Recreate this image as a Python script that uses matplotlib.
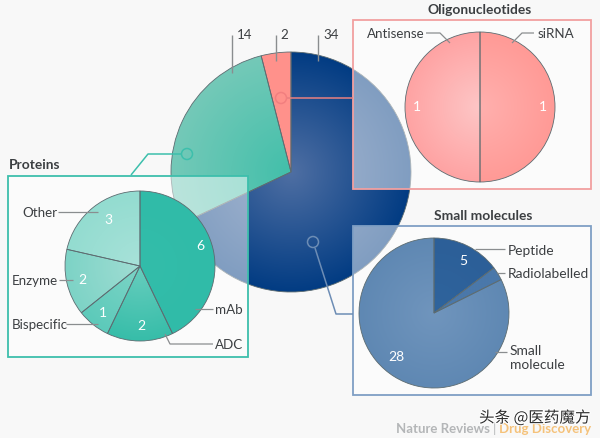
import numpy as np
import matplotlib
matplotlib.use("Agg")
import matplotlib.pyplot as plt
from matplotlib.colors import LinearSegmentedColormap
from matplotlib.patches import Circle, Rectangle
import matplotlib.patheffects as pe

plt.rcParams['font.family'] = ['Lato', 'DejaVu Sans']

H = 439

# data
main_values = [34, 14, 2]
protein_values = [6, 2, 1, 2, 3]
protein_labels = ["mAb", "ADC", "Bispecific", "Enzyme", "Other"]
oligo_values = [1, 1]
oligo_labels = ["siRNA", "Antisense"]
small_values = [5, 1, 28]
small_labels = ["Peptide", "Radiolabelled", "Small\nmolecule"]

TEXT = "#3c3f42"
LEADER = "#8a8d8f"
GREEN = "#3dbfac"
PINK = "#f2a0a0"
BLUE = "#7f9fc4"

fig = plt.figure(figsize=(6, 4.39), dpi=100, facecolor="#f8f8f8")
ax = fig.add_axes([0, 0, 1, 1])


def pie(values, cx, cy, r, colors, z):
    wedges, _ = ax.pie(values, startangle=90, counterclock=False, center=(cx, H - cy), radius=r,
                       colors=["none"] * len(values),
                       wedgeprops={"edgecolor": "#5c6b70", "linewidth": 0.6, "zorder": z + 1})
    xs, ys = np.meshgrid(np.linspace(-1, 1, 200), np.linspace(-1, 1, 200))
    dist = np.clip(np.hypot(xs, ys), 0, 1)
    for w, (inner, outer) in zip(wedges, colors):
        cmap = LinearSegmentedColormap.from_list("g", [inner, outer])
        im = ax.imshow(dist, cmap=cmap, vmin=0, vmax=1, origin="lower", zorder=z, interpolation="bilinear",
                       extent=(cx - r, cx + r, H - cy - r, H - cy + r))
        im.set_clip_path(w)


def box(x0, y0, x1, y1, color):
    ax.add_patch(Rectangle((x0, H - y1), x1 - x0, y1 - y0, facecolor="white", alpha=0.5,
                           edgecolor="none", zorder=3))
    ax.add_patch(Rectangle((x0, H - y1), x1 - x0, y1 - y0, facecolor="none",
                           edgecolor=color, linewidth=1.3, zorder=3.2))


def line(px, py, color=LEADER, lw=0.9, z=6):
    ax.plot(px, [H - y for y in py], color=color, lw=lw, zorder=z, solid_capstyle="butt")


def label(x, y, s, ha="left", color=TEXT, size=9.6, weight="normal", **kw):
    ax.text(x, H - y, s, ha=ha, va="center", color=color, fontsize=size, fontweight=weight, zorder=8, **kw)


# main pie
pie(main_values, 291, 173, 120,
    [("#4f6fa3", "#023c83"), ("#42bfaa", "#74c9b8"), ("#ff918b", "#ff928c")], 1)

# panels over the main pie
box(8, 177, 248, 358, GREEN)
box(353, 21, 591, 190, PINK)
box(353, 227, 591, 396, BLUE)

pie(protein_values, 140, 267, 75,
    [("#33bdaa", "#30bba8"), ("#68ceBe", "#37bda9"), ("#7dd4c6", "#5ccaba"),
     ("#a0ddd3", "#7dd3c6"), ("#a8e2d9", "#93dcd0")], 4)
pie(oligo_values, 480, 108, 75, [("#ffb0ae", "#ff9a96"), ("#fdc6c6", "#ffa3a3")], 4)
pie(small_values, 434, 314, 75,
    [("#2f649d", "#2c5f98"), ("#4a78aa", "#4a78aa"), ("#7095bd", "#5f88b3")], 4)

# value labels
for x, y, s in [(200, 246, "6"), (141, 326, "2"), (103, 313, "1"), (82, 280, "2"), (108, 220, "3"),
                (417, 107, "1"), (543, 107, "1"), (463, 261, "5"), (396, 357, "28")]:
    label(x, y, s, ha="center", color="white", size=10)

# main pie counts
for x, s in [(237, "14"), (280, "2"), (323, "34")]:
    label(x, 35, s)
line([232, 232], [36, 74], lw=1)
line([276, 276], [36, 62], lw=1)
line([318, 318], [36, 62], lw=1)

# connectors
ax.add_patch(Circle((187, H - 155), 5.5, facecolor="none", edgecolor=GREEN, lw=1.1, zorder=6))
line([181, 148, 131], [155, 155, 176], color=GREEN, lw=1.1)
ax.add_patch(Circle((281, H - 99), 5.5, facecolor="none", edgecolor="#f27f7f", lw=1.1, zorder=6))
line([287, 353], [99, 99], color="#e98080", lw=1.1)
ax.add_patch(Circle((313, H - 243), 5.5, facecolor="none", edgecolor="#6d8db5", lw=1.1, zorder=6))
line([315, 336, 353], [249, 315, 315], color="#6d8db5", lw=1.1)

# titles
label(9, 165, "Proteins", weight="bold", size=9.9)
label(480, 10, "Oligonucleotides", ha="center", weight="bold", size=9.9)
label(483, 216, "Small molecules", ha="center", weight="bold", size=9.9)

# protein labels
label(215, 310, protein_labels[0])
label(215, 345, protein_labels[1])
label(12, 325, protein_labels[2])
label(12, 281, protein_labels[3])
label(22, 213, protein_labels[4])
line([195, 213], [310, 310])
line([165, 170, 213], [335, 345, 345])
line([66, 98], [325, 325])
line([59, 73], [281, 281])
line([58, 98], [213, 213])

# oligo labels
label(538, 34, oligo_labels[0])
label(367, 34, oligo_labels[1])
line([534, 522, 512], [34, 34, 44])
line([426, 440, 450], [34, 34, 44])

# small molecule labels
label(508, 251, small_labels[0], size=9.9)
label(508, 274, small_labels[1], size=9.9)
label(510, 358, small_labels[2], linespacing=1.15, size=9.9)
line([475, 505], [250, 250])
line([497, 505], [274, 274])
line([495, 507], [353, 353])

# credit and watermark
label(396, 429, "Nature Reviews", color="#b4b6b8", weight="bold", size=9.5)
label(493, 429, "|", color="#b4b6b8", size=9.5)
label(499, 429, "Drug Discovery", color="#f5c27a", weight="bold", size=9.5)
ax.text(479, H - 419, "头条 @医药魔方", family=['Noto Sans CJK SC', 'DejaVu Sans'], fontsize=11.2,
        color="#2b2b2b", va="center", zorder=9,
        path_effects=[pe.withStroke(linewidth=1.5, foreground="white")])

ax.set_xlim(0, 600)
ax.set_ylim(0, H)
ax.set_aspect("auto")
ax.set_axis_off()
fig.savefig("out.png", dpi=100, facecolor=fig.get_facecolor())
